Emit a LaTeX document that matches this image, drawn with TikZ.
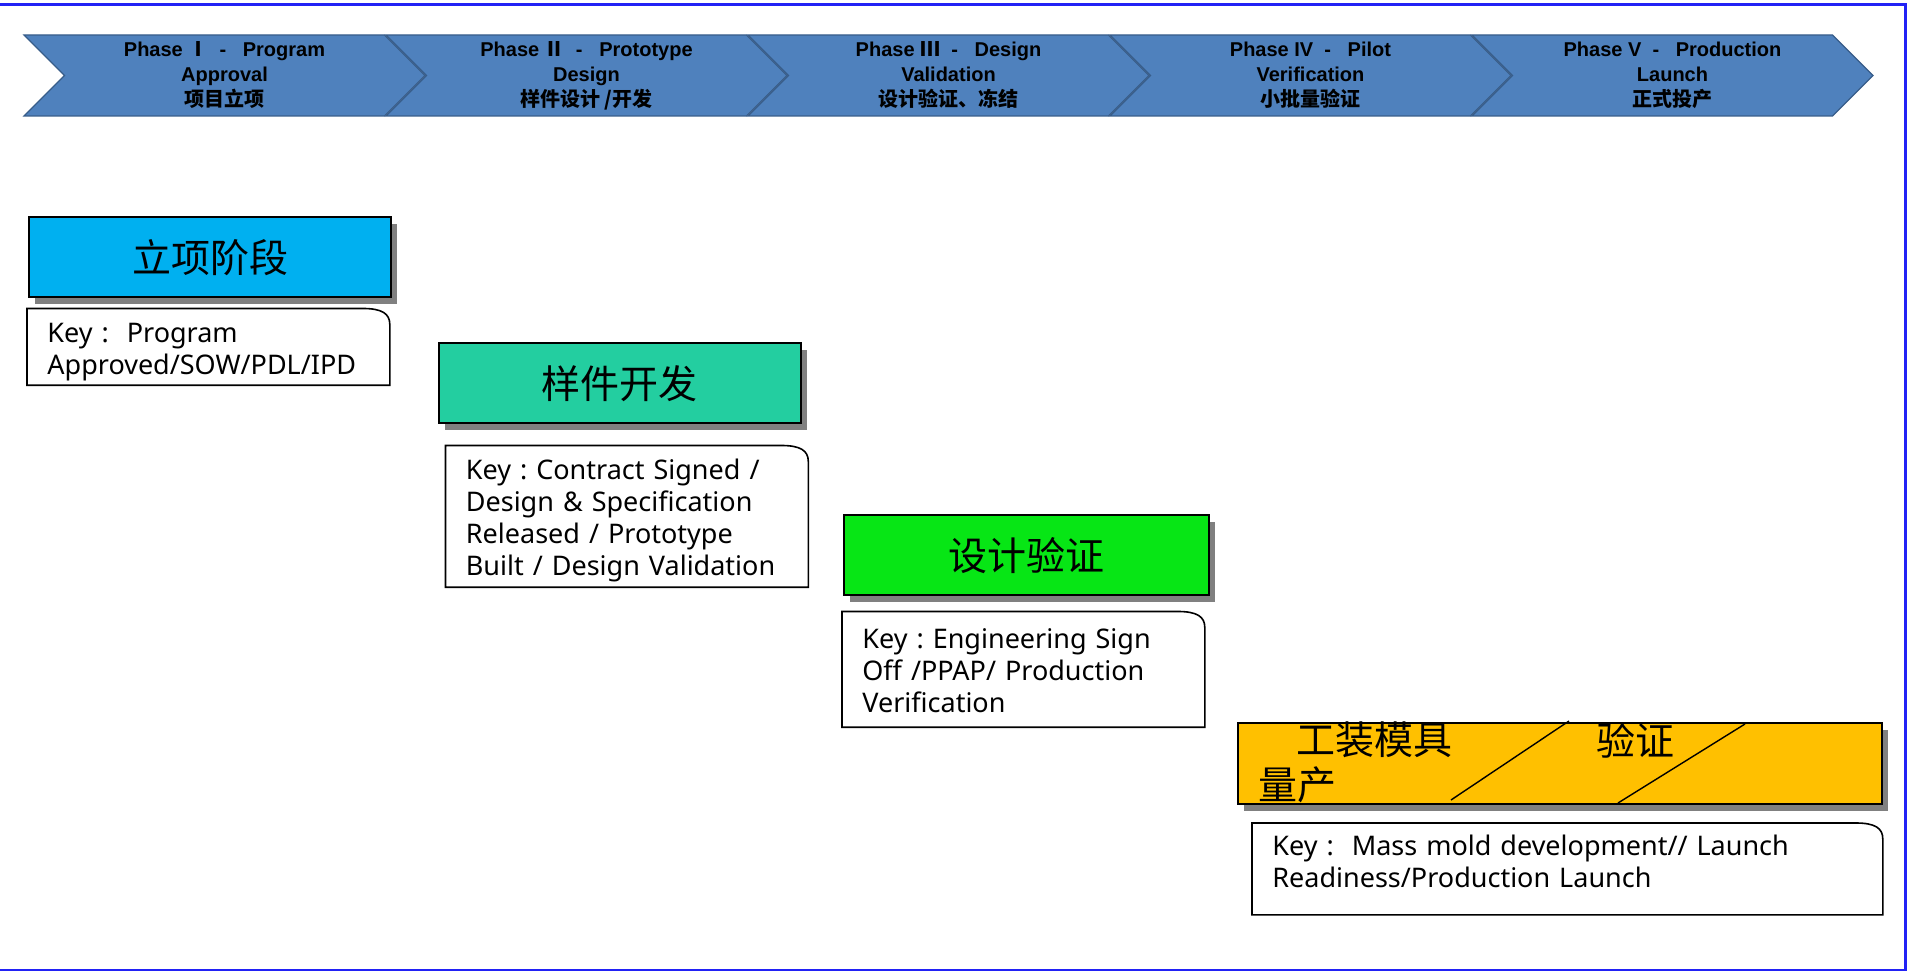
\documentclass[tikz,border=0pt]{standalone}
\usepackage{fontspec}
\setmainfont{Noto Sans}
\newfontfamily\cjk{Noto Sans CJK SC}
\newfontfamily\phasefont{Liberation Sans}
\usetikzlibrary{shapes.symbols,shadows,positioning}
\definecolor{phaseblue}{HTML}{4F81BD}
\definecolor{phaseline}{HTML}{385D8A}
\definecolor{approvalblue}{HTML}{00B0F0}
\definecolor{protogreen}{HTML}{23CEA0}
\definecolor{validgreen}{HTML}{07E615}
\definecolor{launchorange}{HTML}{FFC000}
\definecolor{shadowgray}{HTML}{808080}
\definecolor{frameblue}{HTML}{2222F5}
\newcommand{\keycolon}{\hspace{4.5pt}:\hspace{4.5pt}}

\begin{document}
\begin{tikzpicture}[
    x=0.5pt, y=-0.5pt,
    phase/.style={
        signal,
        signal to=east,
        signal from=west,
        fill=phaseblue,
        draw=phaseline,
        line width=0.6pt,
        minimum width=200.5pt,
        minimum height=40.5pt,
        inner sep=0pt,
        align=center,
        font=\phasefont\fontsize{10}{12.5}\selectfont\bfseries
    },
    stage/.style={
        rectangle,
        draw=black,
        line width=1pt,
        minimum width=181pt,
        minimum height=40pt,
        drop shadow={shadow xshift=3pt, shadow yshift=-3.5pt, fill=shadowgray, opacity=1},
        font=\cjk\fontsize{19.5}{22}\selectfont
    },
    keybox/.style={
        rectangle,
        align=left,
        minimum width=181pt,
        inner xsep=10pt,
        inner ysep=0pt,
        text width=161pt,
        execute at begin node={\rule{0pt}{14.5pt}},
        font=\fontsize{13.5}{16}\selectfont
    },
    keylift/.style={
        execute at end node={\rule[-#1]{0pt}{1pt}}
    },
    keyline/.style={
        draw=black,
        line width=0.8pt
    },
    stagetext/.style={
        inner sep=0pt,
        font=\cjk\fontsize{19.5}{22}\selectfont
    }
  ]

\useasboundingbox (0,0) rectangle (1907,972);

% // The phases
\node [phase] (phase1) at (224.5,75.5)
 {Phase~{\cjk\bfseries Ⅰ}~~-~~~Program\\Approval\\{\cjk\bfseries 项目立项}};
\node [phase, xshift=181pt] (phase2) at (phase1)
 {Phase~{\cjk\bfseries Ⅱ}~~-~~~Prototype\\Design\\{\cjk\bfseries 样件设计 /开发}};
\node [phase, xshift=181pt] (phase3) at (phase2)
 {Phase~{\cjk\bfseries Ⅲ}~~-~~~Design\\Validation\\{\cjk\bfseries 设计验证、冻结}};
\node [phase, xshift=181pt] (phase4) at (phase3)
 {Phase~IV~~-~~~Pilot\\Verification\\{\cjk\bfseries 小批量验证}};
\node [phase, xshift=181pt] (phase5) at (phase4)
 {Phase~V~~-~~~Production\\Launch\\{\cjk\bfseries 正式投产}};

% // The stages
\node [stage, fill=approvalblue] (stage1) at (210,257.5) {立项阶段};
\node [stage, fill=protogreen] (stage2) at (619.5,383.5) {样件开发};
\node [stage, fill=validgreen, minimum width=182.5pt] (stage3) at (1026.5,555.5) {设计验证};
\node [stage, fill=launchorange, minimum width=322pt, minimum height=40.5pt] (stage4) at (1560,763.5) {};

\node [stagetext] (tooling) at (1374,740) {工装模具};
\node [stagetext] (verify) at (1635.5,740) {验证};
\node [stagetext] (massprod) at (1297.5,785) {量产};
\draw [line width=0.7pt] (1451,800) -- (1569,721);
\draw [line width=0.7pt] (1618,803) -- (1745,724);

% // The keys
\node [keybox, below=5pt of stage1.south west, anchor=north west, xshift=-0.5pt, minimum height=38pt] (key1)
 {Key\keycolon\ Program\\Approved/SOW/PDL/IPD};
\node [keybox, below=10.5pt of stage2.south west, anchor=north west, xshift=4pt, minimum height=70.5pt] (key2)
 {Key\keycolon Contract Signed /\\Design \& Specification\\Released / Prototype\\Built / Design Validation};
\node [keybox, keylift=3pt, below=7.5pt of stage3.south west, anchor=north west, xshift=-0.5pt, minimum height=57.5pt] (key3)
 {Key\keycolon Engineering Sign\\Off /PPAP/ Production\\Verification};
\node [keybox, keylift=11.5pt, below=9pt of stage4.south west, anchor=north west, xshift=7.5pt, minimum width=315pt, text width=295pt, minimum height=45.5pt] (key4)
 {Key\keycolon\ Mass mold development// Launch\\Readiness/Production Launch};

\foreach \k in {key1,key2,key3,key4}
 \draw [keyline] (\k.south west) -- (\k.north west) -- ([xshift=-13.5pt]\k.north east)
   .. controls ([xshift=-4pt]\k.north east) and ([yshift=-2.5pt]\k.north east) .. ([yshift=-8pt]\k.north east)
   -- (\k.south east) -- cycle;

% // The frame
\draw [frameblue, line width=1.2pt] (0,4.5) -- (1905.5,4.5) -- (1905.5,970) -- (0,970);

\end{tikzpicture}
\end{document}
